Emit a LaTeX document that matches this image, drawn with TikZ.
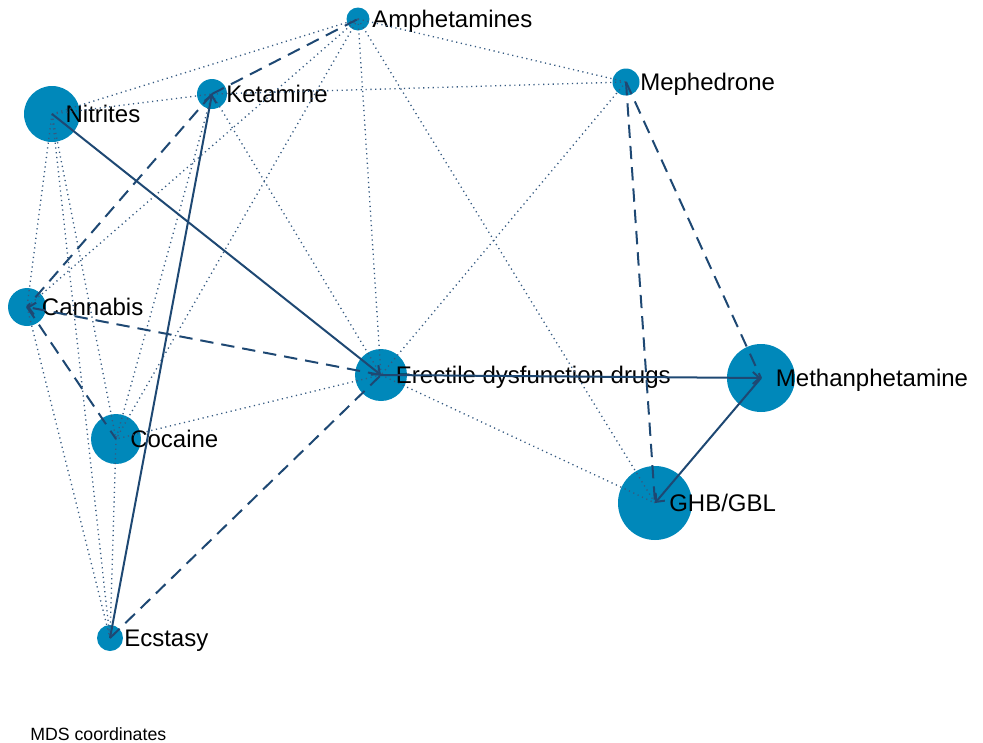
\documentclass[tikz,border=0pt]{standalone}
\usepackage{fontspec}
\setmainfont{Liberation Sans}
\usetikzlibrary{positioning,arrows.meta}
\definecolor{nodeblue}{RGB}{0,136,186}
\definecolor{edgeblue}{RGB}{30,72,115}
\tikzset{
  drug/.style={circle, fill=nodeblue, draw=none, inner sep=0pt, minimum size=#1*1.5pt},
  lbl/.style={inner sep=0pt, font=\fontsize{18}{18}\selectfont, text height=12.9pt, text depth=0pt},
  weak/.style={edgeblue!90, line width=1pt, dash pattern=on 0.9pt off 2.7pt},
  mid/.style={edgeblue, line width=1.5pt, dash pattern=on 10pt off 6pt},
  strong/.style={edgeblue, line width=1.5pt}
}
\begin{document}
\begin{tikzpicture}[x=0.75pt, y=-0.75pt, line cap=butt, >={Straight Barb[length=5pt,width=9pt]}]
	\useasboundingbox (0,0) rectangle (983,743);
	% vertices (radius in px)
	\node[drug=11.5] (amp) at (358,19) {};
	\node[drug=15] (ket) at (212,94) {};
	\node[drug=28] (nit) at (52,114) {};
	\node[drug=19] (can) at (27,307) {};
	\node[drug=25] (coc) at (116,439) {};
	\node[drug=13] (ecs) at (110,638) {};
	\node[drug=26] (erd) at (381,375) {};
	\node[drug=13.5] (mep) at (626,82) {};
	\node[drug=34] (met) at (761,378) {};
	\node[drug=37] (ghb) at (655,503) {};
	% labels
	\node[lbl, right=10.5pt of amp.center] (amp-t) {Amphetamines};
	\node[lbl, right=10.5pt of ket.center] (ket-t) {Ketamine};
	\node[lbl, right=10pt of nit.center] (nit-t) {Nitrites};
	\node[lbl, right=11pt of can.center] (can-t) {Cannabis};
	\node[lbl, right=10.5pt of coc.center] (coc-t) {Cocaine};
	\node[lbl, right=10.5pt of ecs.center] (ecs-t) {Ecstasy};
	\node[lbl, right=11pt of erd.center] (erd-t) {Erectile dysfunction drugs};
	\node[lbl, right=10.5pt of mep.center] (mep-t) {Mephedrone};
	\node[lbl, right=11pt of met.center] (met-t) {Methanphetamine};
	\node[lbl, right=10.5pt of ghb.center] (ghb-t) {GHB/GBL};
	% weak ties
	\foreach \a/\b in {nit/amp, nit/ket, nit/can, nit/coc, nit/ecs, ket/mep, ket/erd, ket/coc,
	                   amp/mep, amp/erd, amp/ghb, amp/can, amp/coc, mep/erd, erd/ghb, erd/coc,
	                   can/ecs, coc/ecs}
		\draw[weak] (\a.center) -- (\b.center);
	% medium ties
	\foreach \a/\b in {ket/amp, ket/can, can/coc, ecs/erd, mep/ghb, mep/met}
		\draw[mid] (\a.center) -- (\b.center);
	\draw[mid, ->] (erd.center) -- (can.center);
	% strong ties
	\draw[strong, ->] (nit.center) -- (erd.center);
	\draw[strong, ->] (ecs.center) -- (ket.center);
	\draw[strong, ->] (erd.center) -- (met.center);
	\draw[strong, ->] (met.center) -- (ghb.center);
	\node[anchor=base west, inner sep=0pt, font=\fontsize{13.3}{14}\selectfont] (cap) at (30,740) {MDS coordinates};
\end{tikzpicture}
\end{document}
